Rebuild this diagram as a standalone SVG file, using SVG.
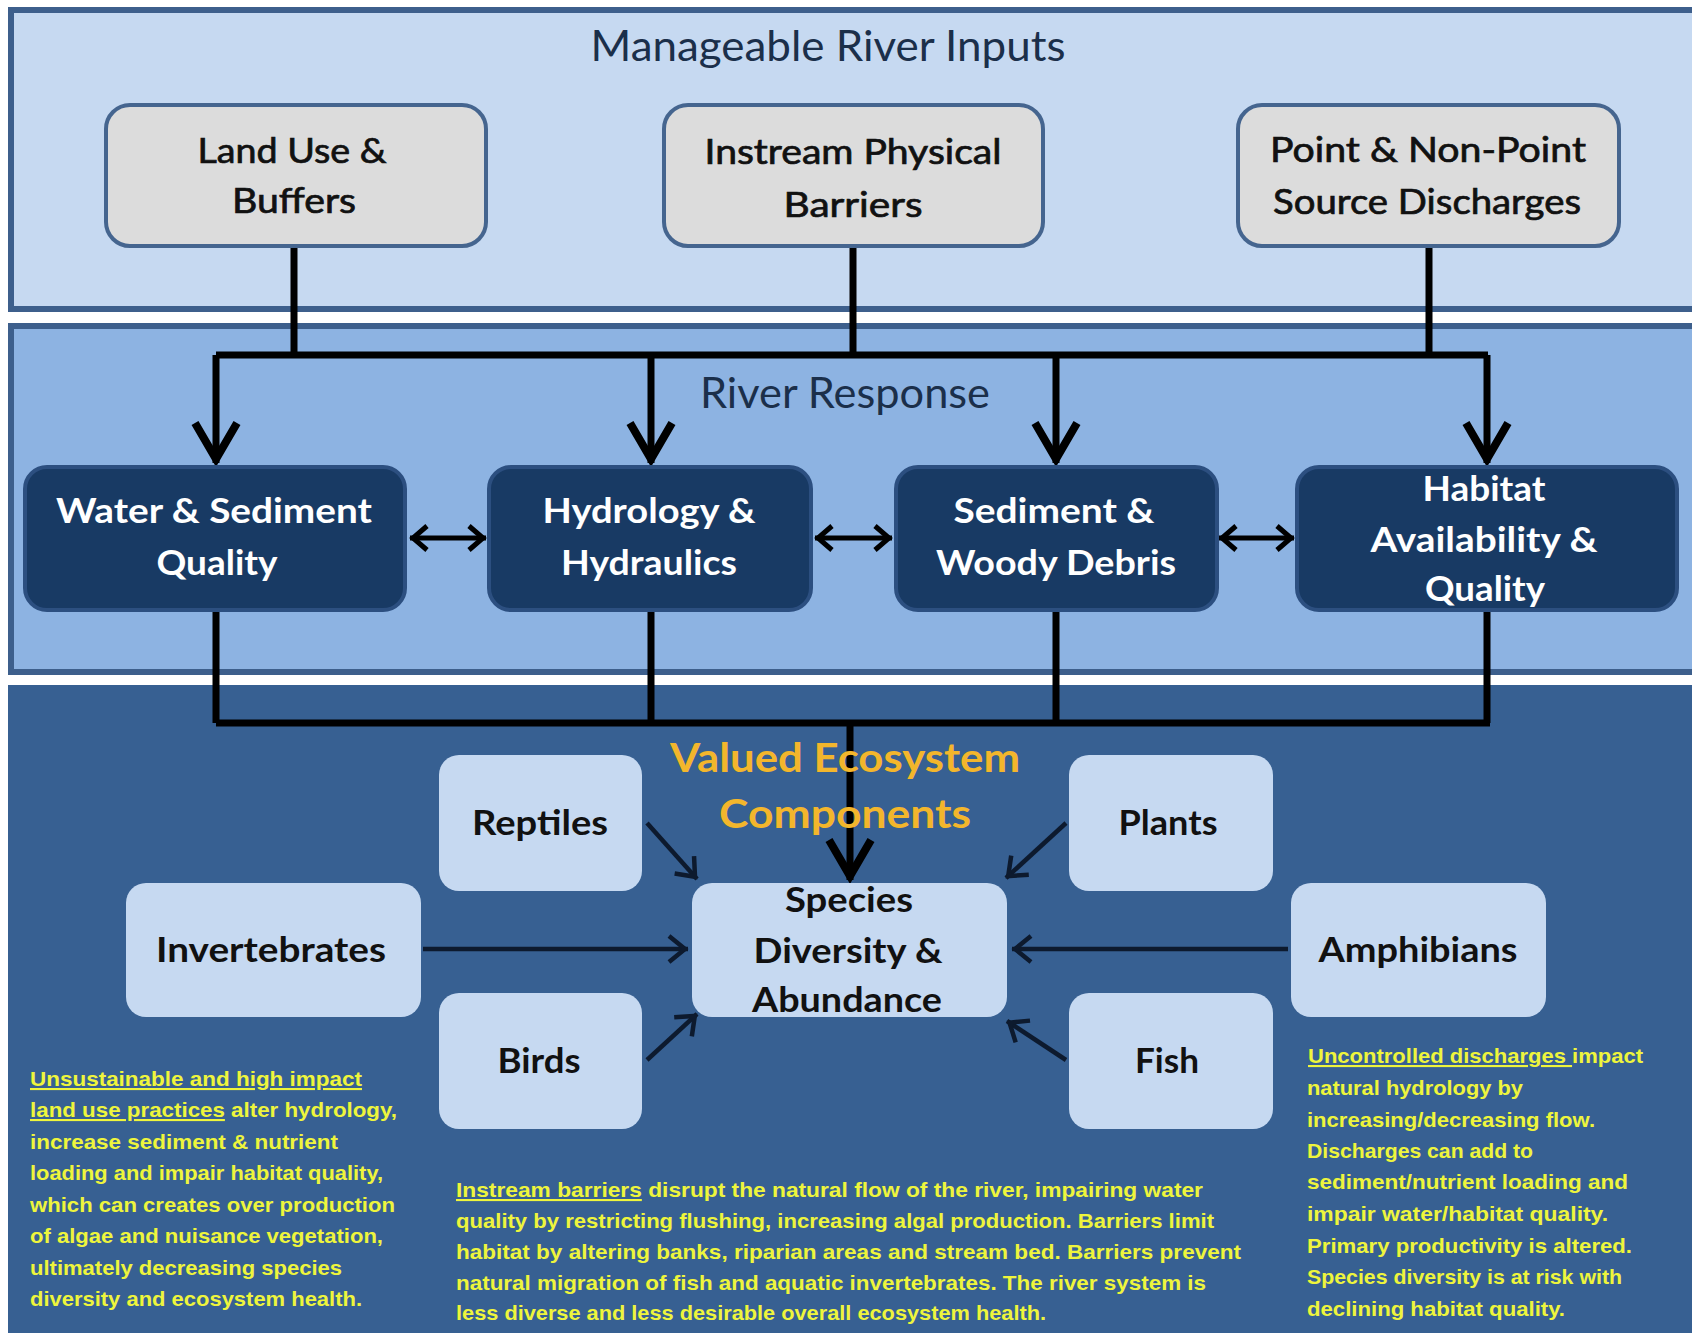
<svg xmlns="http://www.w3.org/2000/svg" width="1692" height="1333" viewBox="0 0 1692 1333">
<defs>
<marker id="bigV" markerUnits="userSpaceOnUse" viewBox="-48 -28 54 56" markerWidth="54" markerHeight="56" refX="0" refY="0" orient="auto-start-reverse">
<path d="M-40,-21 L-4,0 L-40,21" fill="none" stroke="#000" stroke-width="8"/>
</marker>
<marker id="medV" markerUnits="userSpaceOnUse" viewBox="-24 -18 30 36" markerWidth="30" markerHeight="36" refX="0" refY="0" orient="auto-start-reverse">
<path d="M-17,-12 L-3,0 L-17,12" fill="none" stroke="#000" stroke-width="5"/>
</marker>
<marker id="smallV" markerUnits="userSpaceOnUse" viewBox="-26 -18 32 36" markerWidth="32" markerHeight="36" refX="0" refY="0" orient="auto">
<path d="M-19,-13 L-3,0 L-19,13" fill="none" stroke="#0d1a2e" stroke-width="4.5"/>
</marker>
</defs>
<style>
.panelTop{fill:#c6d9f1;stroke:#3d5f8c;stroke-width:6}
.panelMid{fill:#8db3e2;stroke:#3d5f8c;stroke-width:6}
.panelBot{fill:#376092}
.grey{fill:#dcdcdc;stroke:#45658f;stroke-width:4}
.dark{fill:#183a64;stroke:#2c4f80;stroke-width:4}
.light{fill:#c6d9f1}
.ttl{font-family:Lato,"Open Sans",sans-serif;font-size:42px;fill:#1b2f4a;text-anchor:middle}
.gl{font-family:Lato,"Open Sans",sans-serif;font-size:34px;fill:#111;stroke:#111;stroke-width:0.7;text-anchor:middle}
.dl{font-family:Lato,"Open Sans",sans-serif;font-size:35px;font-weight:bold;fill:#fff;text-anchor:middle}
.ll{font-family:Lato,"Open Sans",sans-serif;font-size:34px;font-weight:bold;fill:#111;text-anchor:middle}
.vec{font-family:Lato,"Open Sans",sans-serif;font-size:40px;font-weight:bold;fill:#f3b62c;text-anchor:middle}
.p{font-family:"Liberation Sans",Arial,sans-serif;font-size:21px;font-weight:bold;fill:#eef53c}
.u{text-decoration:underline}
.thick{fill:none;stroke:#000;stroke-width:7}
.thin{fill:none;stroke:#0d1a2e;stroke-width:4.5}
.mid{fill:none;stroke:#000;stroke-width:5}
</style>

<!-- panels -->
<rect class="panelTop" x="11" y="10" width="1700" height="299"/>
<rect class="panelMid" x="11" y="326" width="1700" height="346"/>
<rect class="panelBot" x="8" y="685" width="1700" height="660"/>

<text class="ttl" x="828" y="61" textLength="475" lengthAdjust="spacingAndGlyphs">Manageable River Inputs</text>
<text class="ttl" x="845" y="408" textLength="290" lengthAdjust="spacingAndGlyphs">River Response</text>

<!-- connectors -->
<g id="connectors">
<path class="thick" d="M294,246 V355 M853,246 V355 M1429,246 V355 M216,355 H1488"/>
<path class="thick" d="M216,355 V463" marker-end="url(#bigV)"/>
<path class="thick" d="M651,355 V463" marker-end="url(#bigV)"/>
<path class="thick" d="M1056,355 V463" marker-end="url(#bigV)"/>
<path class="thick" d="M1487,355 V463" marker-end="url(#bigV)"/>
<path class="mid" d="M410,538 H486" marker-start="url(#medV)" marker-end="url(#medV)"/>
<path class="mid" d="M815,538 H892" marker-start="url(#medV)" marker-end="url(#medV)"/>
<path class="mid" d="M1219,538 H1294" marker-start="url(#medV)" marker-end="url(#medV)"/>
<path class="thick" d="M216,610 V723 M651,610 V723 M1056,610 V723 M1487,610 V723 M216,723 H1490"/>
<path class="thick" d="M850,723 V880" marker-end="url(#bigV)"/>
<path class="thin" d="M647,823 L697,879" marker-end="url(#smallV)"/>
<path class="thin" d="M1066,823 L1006,878" marker-end="url(#smallV)"/>
<path class="thin" d="M423,949 H688" marker-end="url(#smallV)"/>
<path class="thin" d="M1288,949 H1012" marker-end="url(#smallV)"/>
<path class="thin" d="M647,1060 L697,1014" marker-end="url(#smallV)"/>
<path class="thin" d="M1066,1060 L1007,1021" marker-end="url(#smallV)"/>
</g>

<!-- top inputs -->
<g id="land-use">
<rect class="grey" x="106" y="105" width="380" height="141" rx="24"/>
<text class="gl" x="292" y="163" textLength="189" lengthAdjust="spacingAndGlyphs">Land Use &amp;</text>
<text class="gl" x="294" y="213" textLength="124" lengthAdjust="spacingAndGlyphs">Buffers</text>
</g>
<g id="instream">
<rect class="grey" x="664" y="105" width="379" height="141" rx="24"/>
<text class="gl" x="853" y="164" textLength="297" lengthAdjust="spacingAndGlyphs">Instream Physical</text>
<text class="gl" x="853" y="217" textLength="139" lengthAdjust="spacingAndGlyphs">Barriers</text>
</g>
<g id="point-source">
<rect class="grey" x="1238" y="105" width="381" height="141" rx="24"/>
<text class="gl" x="1428" y="162" textLength="316" lengthAdjust="spacingAndGlyphs">Point  &amp; Non-Point</text>
<text class="gl" x="1427" y="214" textLength="308" lengthAdjust="spacingAndGlyphs">Source Discharges</text>
</g>

<!-- river response -->
<g id="water-sediment">
<rect class="dark" x="25" y="467" width="380" height="143" rx="22"/>
<text class="dl" x="214" y="523" textLength="316" lengthAdjust="spacingAndGlyphs">Water &amp; Sediment</text>
<text class="dl" x="217" y="575" textLength="121" lengthAdjust="spacingAndGlyphs">Quality</text>
</g>
<g id="hydrology">
<rect class="dark" x="489" y="467" width="322" height="143" rx="22"/>
<text class="dl" x="649" y="523" textLength="213" lengthAdjust="spacingAndGlyphs">Hydrology &amp;</text>
<text class="dl" x="649" y="575" textLength="176" lengthAdjust="spacingAndGlyphs">Hydraulics</text>
</g>
<g id="sediment-debris">
<rect class="dark" x="896" y="467" width="321" height="143" rx="22"/>
<text class="dl" x="1054" y="523" textLength="201" lengthAdjust="spacingAndGlyphs">Sediment &amp;</text>
<text class="dl" x="1056" y="575" textLength="240" lengthAdjust="spacingAndGlyphs">Woody Debris</text>
</g>
<g id="habitat">
<rect class="dark" x="1297" y="467" width="380" height="143" rx="22"/>
<text class="dl" x="1484" y="501" textLength="123" lengthAdjust="spacingAndGlyphs">Habitat</text>
<text class="dl" x="1484" y="552" textLength="227" lengthAdjust="spacingAndGlyphs">Availability &amp;</text>
<text class="dl" x="1485" y="601" textLength="120" lengthAdjust="spacingAndGlyphs">Quality</text>
</g>

<!-- valued ecosystem components -->
<g id="vec-title">
<text class="vec" x="845" y="772" textLength="350" lengthAdjust="spacingAndGlyphs">Valued Ecosystem</text>
<text class="vec" x="845" y="828" textLength="252" lengthAdjust="spacingAndGlyphs">Components</text>
</g>
<g id="reptiles">
<rect class="light" x="439" y="755" width="203" height="136" rx="20"/>
<text class="ll" x="540" y="835" textLength="136" lengthAdjust="spacingAndGlyphs">Reptiles</text>
</g>
<g id="plants">
<rect class="light" x="1069" y="755" width="204" height="136" rx="20"/>
<text class="ll" x="1168" y="835" textLength="99" lengthAdjust="spacingAndGlyphs">Plants</text>
</g>
<g id="invertebrates">
<rect class="light" x="126" y="883" width="295" height="134" rx="20"/>
<text class="ll" x="271" y="962" textLength="230" lengthAdjust="spacingAndGlyphs">Invertebrates</text>
</g>
<g id="species">
<rect class="light" x="692" y="883" width="315" height="134" rx="20"/>
<text class="ll" x="849" y="912" textLength="128" lengthAdjust="spacingAndGlyphs">Species</text>
<text class="ll" x="848" y="963" textLength="189" lengthAdjust="spacingAndGlyphs">Diversity &amp;</text>
<text class="ll" x="847" y="1012" textLength="190" lengthAdjust="spacingAndGlyphs">Abundance</text>
</g>
<g id="amphibians">
<rect class="light" x="1291" y="883" width="255" height="134" rx="20"/>
<text class="ll" x="1418" y="962" textLength="199" lengthAdjust="spacingAndGlyphs">Amphibians</text>
</g>
<g id="birds">
<rect class="light" x="439" y="993" width="203" height="136" rx="20"/>
<text class="ll" x="539" y="1073" textLength="83" lengthAdjust="spacingAndGlyphs">Birds</text>
</g>
<g id="fish">
<rect class="light" x="1069" y="993" width="204" height="136" rx="20"/>
<text class="ll" x="1167" y="1073" textLength="64" lengthAdjust="spacingAndGlyphs">Fish</text>
</g>

<!-- notes -->
<g id="note-land-use">
<text class="p" x="30" y="1086" textLength="332" lengthAdjust="spacingAndGlyphs"><tspan class="u">Unsustainable and high impact</tspan></text>
<text class="p" x="30" y="1117" textLength="367" lengthAdjust="spacingAndGlyphs"><tspan class="u">land use practices</tspan>  alter hydrology,</text>
<text class="p" x="30" y="1149" textLength="308" lengthAdjust="spacingAndGlyphs">increase sediment &amp; nutrient</text>
<text class="p" x="30" y="1180" textLength="353" lengthAdjust="spacingAndGlyphs">loading and impair habitat quality,</text>
<text class="p" x="30" y="1212" textLength="365" lengthAdjust="spacingAndGlyphs">which can creates over production</text>
<text class="p" x="30" y="1243" textLength="353" lengthAdjust="spacingAndGlyphs">of algae and nuisance vegetation,</text>
<text class="p" x="30" y="1275" textLength="312" lengthAdjust="spacingAndGlyphs">ultimately decreasing species</text>
<text class="p" x="30" y="1306" textLength="332" lengthAdjust="spacingAndGlyphs">diversity and ecosystem health.</text>
</g>
<g id="note-barriers">
<text class="p" x="456" y="1197" textLength="747" lengthAdjust="spacingAndGlyphs"><tspan class="u">Instream barriers</tspan> disrupt the natural flow of the river, impairing water</text>
<text class="p" x="456" y="1228" textLength="758" lengthAdjust="spacingAndGlyphs">quality by restricting flushing, increasing algal production.  Barriers limit</text>
<text class="p" x="456" y="1259" textLength="785" lengthAdjust="spacingAndGlyphs">habitat by altering banks, riparian areas and stream bed.  Barriers prevent</text>
<text class="p" x="456" y="1290" textLength="750" lengthAdjust="spacingAndGlyphs">natural migration of fish and aquatic invertebrates.  The river system is</text>
<text class="p" x="456" y="1320" textLength="590" lengthAdjust="spacingAndGlyphs">less diverse and less desirable overall ecosystem health.</text>
</g>
<g id="note-discharges">
<text class="p" x="1308" y="1063" textLength="335" lengthAdjust="spacingAndGlyphs"><tspan class="u">Uncontrolled discharges </tspan>impact</text>
<text class="p" x="1307" y="1095" textLength="216" lengthAdjust="spacingAndGlyphs">natural hydrology by</text>
<text class="p" x="1307" y="1127" textLength="288" lengthAdjust="spacingAndGlyphs">increasing/decreasing flow.</text>
<text class="p" x="1307" y="1158" textLength="226" lengthAdjust="spacingAndGlyphs">Discharges can add to</text>
<text class="p" x="1307" y="1189" textLength="321" lengthAdjust="spacingAndGlyphs">sediment/nutrient loading and</text>
<text class="p" x="1307" y="1221" textLength="301" lengthAdjust="spacingAndGlyphs">impair water/habitat quality.</text>
<text class="p" x="1307" y="1253" textLength="325" lengthAdjust="spacingAndGlyphs">Primary productivity is altered.</text>
<text class="p" x="1307" y="1284" textLength="315" lengthAdjust="spacingAndGlyphs">Species diversity is at risk with</text>
<text class="p" x="1307" y="1316" textLength="258" lengthAdjust="spacingAndGlyphs">declining habitat quality.</text>
</g>
</svg>
